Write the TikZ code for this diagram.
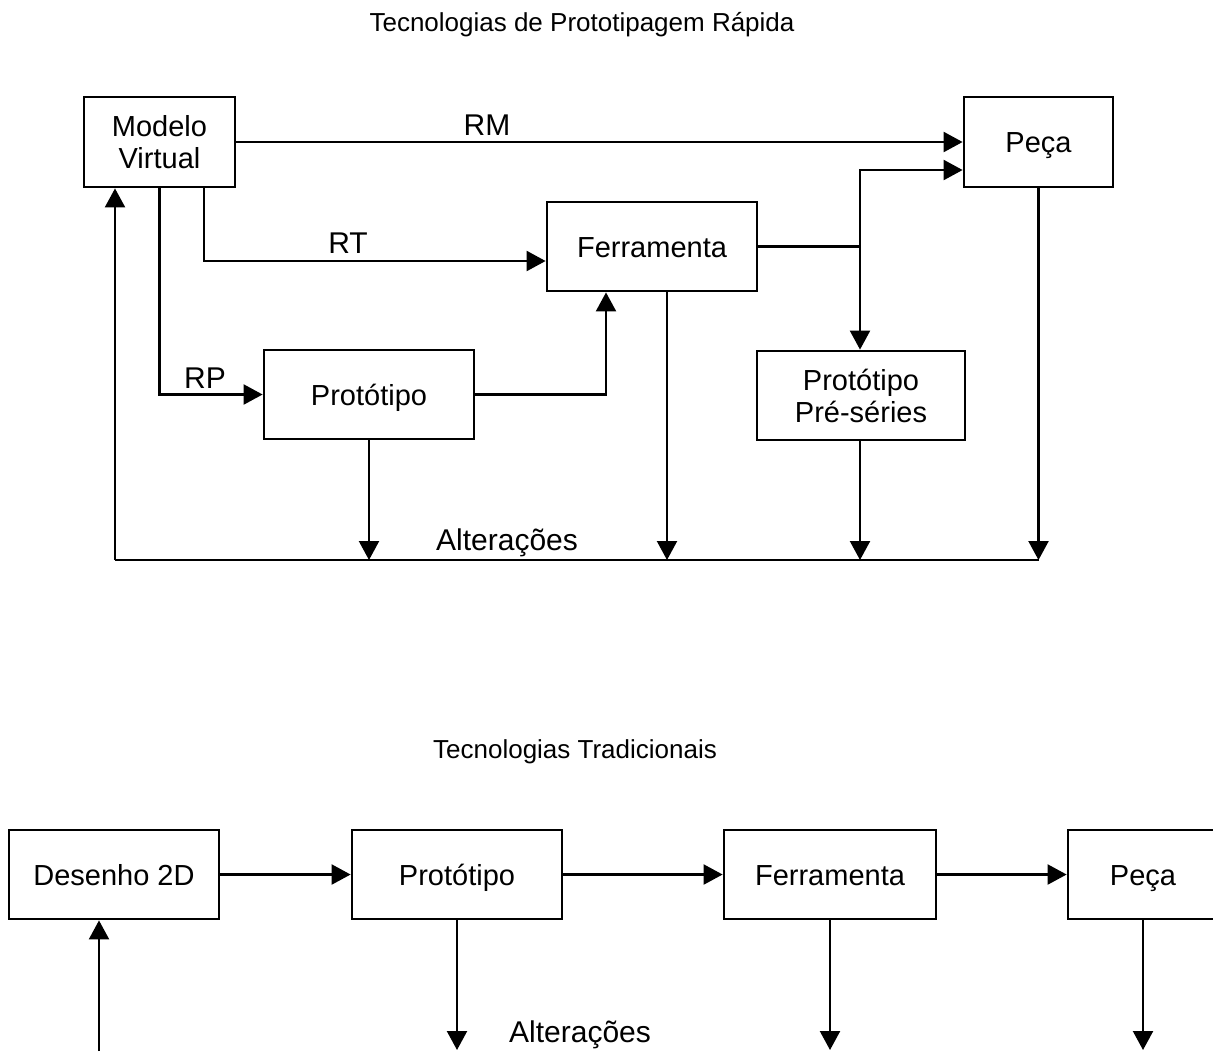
\documentclass[tikz,border=0pt]{standalone}
\usepackage{fontspec}
\setmainfont{Liberation Sans}
\usetikzlibrary{arrows.meta}
\begin{document}
\begin{tikzpicture}[x=0.5pt,y=-0.5pt,
  box/.style={draw,line width=1.4pt,inner sep=0pt,align=center,font=\fontsize{14.5}{16}\selectfont},
  one/.style={box,text height=10.6pt,text depth=0pt},
  conn/.style={line width=1.1pt},
  arr/.style={conn,-{Triangle[length=9.5pt,width=10pt]}},
  lbl/.style={font=\fontsize{15}{18}\selectfont},
  ttl/.style={font=\fontsize{13}{15}\selectfont}]
\useasboundingbox (0,0) rectangle (1213,1051);

% ---------- Top diagram ----------
\node[ttl] (t1) at (582,25) {Tecnologias de Prototipagem Rápida};

\node[box,minimum width=75.5pt,minimum height=45pt] (mv) at (159.5,142) {Modelo\\Virtual};
\node[one,minimum width=74.5pt,minimum height=45pt] (pc1) at (1038.5,142) {Peça};
\node[one,minimum width=105pt,minimum height=44.5pt] (fe1) at (652,246.5) {Ferramenta};
\node[one,minimum width=105pt,minimum height=44.5pt] (pr1) at (369,394.5) {Protótipo};
\node[box,minimum width=104pt,minimum height=44.5pt] (ps) at (861,395.5) {Protótipo\\Pré-séries};

\coordinate (rt) at (204,261);
\coordinate (pf) at (606,394.5);
\coordinate (sp) at (860,246.5);
\coordinate (pin) at (964,170);
\coordinate (bl) at (115,560);
\coordinate (br) at (1039,560);
\coordinate (fx) at (667,560);

\draw[arr] (mv.east) -- (pc1.west);
\draw[arr] (mv.south -| rt) |- (fe1.west |- rt);
\draw[arr] (mv.south) |- (pr1.west);
\draw[arr] (pr1.east) -| (fe1.south -| pf);
\draw[conn] (fe1.east) -- (sp);
\draw[arr] (sp) |- (pc1.west |- pin);
\draw[arr] (sp) -- (ps.north -| sp);

\draw[conn] (bl) -- (br);
\draw[arr] (bl) -- (mv.south -| bl);
\draw[arr] (pr1.south) -- (pr1.south |- bl);
\draw[arr] (fe1.south -| fx) -- (fx);
\draw[arr] (ps.south -| sp) -- (sp |- bl);
\draw[arr] (pc1.south) -- (pc1.south |- br);

\node[lbl] (rm) at (487,125) {RM};
\node[lbl] (rtl) at (348,243) {RT};
\node[lbl] (rpl) at (205,378) {RP};
\node[lbl] (alt1) at (507,543) {Alterações};

% ---------- Bottom diagram ----------
\node[ttl] (t2) at (575,752) {Tecnologias Tradicionais};

\node[one,minimum width=105pt,minimum height=44.5pt] (des) at (114,874.5) {Desenho 2D};
\node[one,minimum width=105pt,minimum height=44.5pt] (pr2) at (457,874.5) {Protótipo};
\node[one,minimum width=106pt,minimum height=44.5pt] (fe2) at (830,874.5) {Ferramenta};
\node[one,minimum width=75pt,minimum height=44.5pt] (pc2) at (1143,874.5) {Peça};

\coordinate (ub) at (99,1051);
\coordinate (bb) at (0,1050);

\draw[arr] (des.east) -- (pr2.west);
\draw[arr] (pr2.east) -- (fe2.west);
\draw[arr] (fe2.east) -- (pc2.west);
\draw[arr] (ub) -- (des.south -| ub);
\draw[arr] (pr2.south) -- (pr2.south |- bb);
\draw[arr] (fe2.south) -- (fe2.south |- bb);
\draw[arr] (pc2.south) -- (pc2.south |- bb);

\node[lbl] (alt2) at (580,1035) {Alterações};
\end{tikzpicture}
\end{document}
